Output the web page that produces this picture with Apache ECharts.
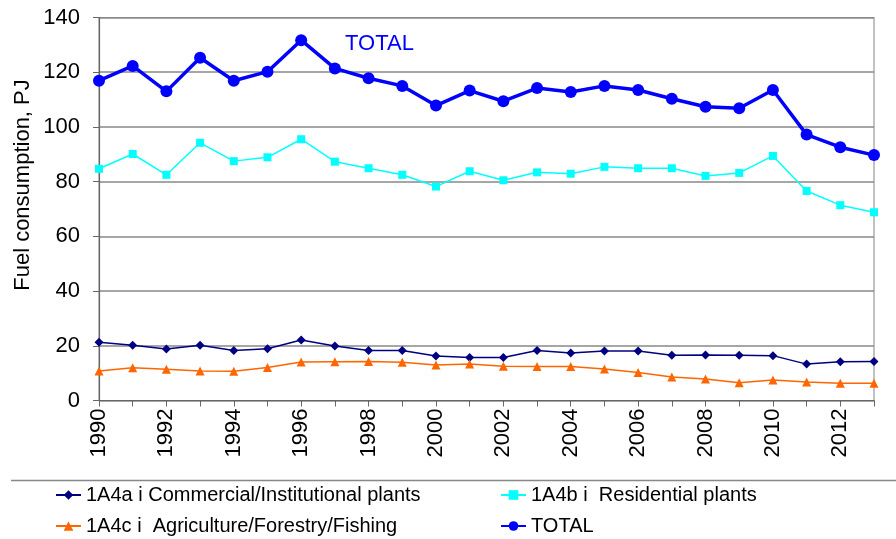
<!DOCTYPE html>
<html>
<head>
<meta charset="utf-8">
<script src="https://cdn.jsdelivr.net/npm/echarts@6/dist/echarts.min.js"></script>
<style>html,body{margin:0;padding:0;background:#fff;}#c{width:896px;height:539px;}</style>
</head>
<body>
<div id="c"></div>
<script>
const years = ['1990','1991','1992','1993','1994','1995','1996','1997','1998','1999','2000','2001','2002','2003','2004','2005','2006','2007','2008','2009','2010','2011','2012','2013'];
const commercial = [21.3,20.2,18.8,20.2,18.3,18.9,22.1,19.9,18.3,18.3,16.3,15.7,15.7,18.3,17.4,18.1,18.1,16.5,16.6,16.5,16.4,13.3,14.2,14.3];
const residential = [84.7,90.1,82.5,94.2,87.5,88.9,95.5,87.3,84.9,82.5,78.2,83.8,80.5,83.4,82.9,85.4,84.9,84.9,82.1,83.2,89.4,76.6,71.4,68.8];
const agriculture = [10.8,12.0,11.4,10.8,10.7,12.1,14.1,14.2,14.3,14.0,13.0,13.3,12.5,12.4,12.4,11.5,10.2,8.6,7.9,6.5,7.5,6.8,6.3,6.3];
const total = [116.9,122.3,113.0,125.3,116.9,120.2,131.7,121.4,117.8,115.0,107.8,113.3,109.4,114.2,112.8,115.0,113.5,110.3,107.4,106.8,113.5,97.2,92.6,89.7];
const names = ['1A4a i Commercial/Institutional plants','1A4b i  Residential plants','1A4c i  Agriculture/Forestry/Fishing','TOTAL'];
const yTicks = {min:0, max:140, interval:20};

const FONT = 'Liberation Sans, Arial, sans-serif';
const chart = echarts.init(document.getElementById('c'), null, {renderer:'canvas'});
const legendBase = {
  orient:'horizontal', itemWidth:25, itemHeight:12, itemGap:0, padding:0,
  textStyle:{fontFamily:FONT, fontSize:20, color:'#000'}, selectedMode:false
};
chart.setOption({
  animation:false,
  backgroundColor:'#fff',
  textStyle:{fontFamily:FONT},
  grid:{left:99, right:22, top:17.5, bottom:138.5, show:true, borderColor:'#999', borderWidth:1.2},
  xAxis:{
    type:'category', data:years, boundaryGap:false,
    axisLine:{lineStyle:{color:'#666', width:1.2}},
    axisTick:{show:true, interval:0, length:6, lineStyle:{color:'#666'}},
    axisLabel:{interval:1, rotate:90, fontSize:22, color:'#000', fontFamily:FONT, margin:8},
    splitLine:{show:false}
  },
  yAxis:{
    type:'value', min:yTicks.min, max:yTicks.max, interval:yTicks.interval,
    axisLine:{show:true, lineStyle:{color:'#666', width:1.2}},
    axisTick:{show:true, length:6, lineStyle:{color:'#666'}},
    axisLabel:{fontSize:22, color:'#000', fontFamily:FONT, margin:19},
    splitLine:{show:true, lineStyle:{color:'#888', width:1.5}}
  },
  legend:[
    Object.assign({}, legendBase, {data:[names[0]], left:55, top:485}),
    Object.assign({}, legendBase, {data:[names[1]], left:500, top:485}),
    Object.assign({}, legendBase, {data:[names[2]], left:55, top:516}),
    Object.assign({}, legendBase, {data:[names[3]], left:500, top:516})
  ],
  graphic:[
    {type:'line', shape:{x1:11, y1:480.5, x2:896, y2:480.5}, style:{stroke:'#888', lineWidth:1.5}},
    {type:'text', left:345, top:33, style:{text:'TOTAL', fill:'#0000FF', font:'22px Liberation Sans, Arial, sans-serif'}},
    {type:'text', x:23, y:185, rotation:Math.PI/2,
     style:{text:'Fuel consumption, PJ', fill:'#000', font:'22px Liberation Sans, Arial, sans-serif', align:'center', verticalAlign:'middle'}}
  ],
  series:[
    {name:names[0], type:'line', data:commercial, color:'#000080', symbol:'diamond', symbolSize:9,
     lineStyle:{width:1.5, color:'#000080'}, itemStyle:{color:'#000080'}},
    {name:names[1], type:'line', data:residential, color:'#00FFFF', symbol:'rect', symbolSize:8,
     lineStyle:{width:1.5, color:'#00FFFF'}, itemStyle:{color:'#00FFFF'}},
    {name:names[2], type:'line', data:agriculture, color:'#FF6600', symbol:'triangle', symbolSize:9,
     lineStyle:{width:1.5, color:'#FF6600'}, itemStyle:{color:'#FF6600'}},
    {name:names[3], type:'line', data:total, color:'#0000FF', symbol:'circle', symbolSize:12,
     lineStyle:{width:3.5, color:'#0000FF'}, itemStyle:{color:'#0000FF'}}
  ]
});
</script>
</body>
</html>
